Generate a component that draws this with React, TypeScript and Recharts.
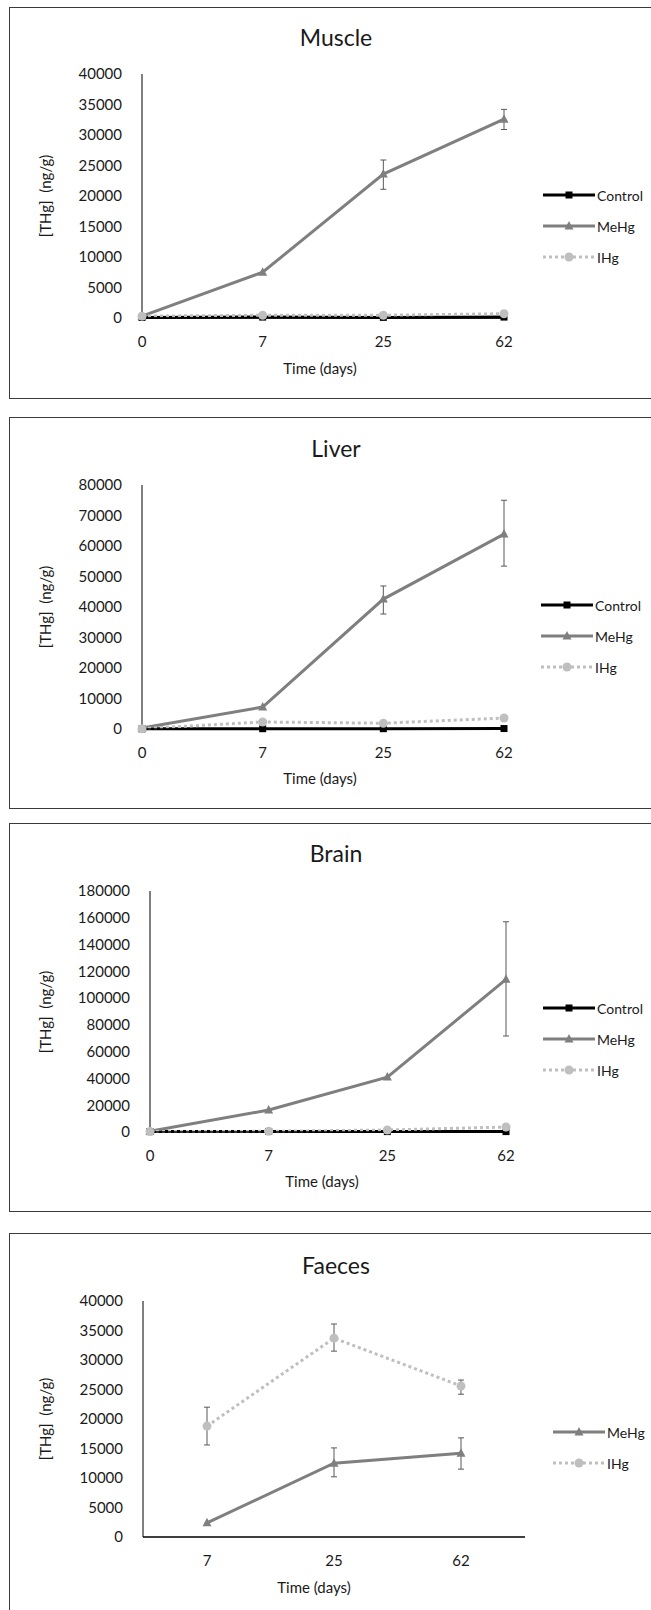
import { LineChart, Line, XAxis, YAxis, ErrorBar, Legend } from "recharts";

const FONT = "Lato, 'Open Sans', sans-serif";
const TEXT = "#1a1a1a";

// x categories
const days = ["0", "7", "25", "62"];
const faecesDays = ["7", "25", "62"];

// Muscle
const muscleControl = [100, 150, 100, 150];
const muscleMeHg = [300, 7500, 23600, 32600];
const muscleMeHgLow = [null, null, 21100, 30900];
const muscleMeHgHigh = [null, null, 25900, 34200];
const muscleIHg = [300, 450, 450, 700];
const muscleTicks = [0, 5000, 10000, 15000, 20000, 25000, 30000, 35000, 40000];

// Liver
const liverControl = [50, 100, 100, 150];
const liverMeHg = [300, 7200, 42600, 63900];
const liverMeHgLow = [null, null, 37700, 53400];
const liverMeHgHigh = [null, null, 46900, 75000];
const liverIHg = [100, 2300, 1900, 3600];
const liverTicks = [0, 10000, 20000, 30000, 40000, 50000, 60000, 70000, 80000];

// Brain
const brainControl = [300, 400, 300, 300];
const brainMeHg = [500, 16400, 41000, 114000];
const brainMeHgLow = [null, null, null, 71700];
const brainMeHgHigh = [null, null, null, 157000];
const brainIHg = [300, 500, 1500, 3700];
const brainTicks = [0, 20000, 40000, 60000, 80000, 100000, 120000, 140000, 160000, 180000];

// Faeces
const faecesMeHg = [2400, 12500, 14200];
const faecesMeHgLow = [null, 10200, 11500];
const faecesMeHgHigh = [null, 15100, 16800];
const faecesIHg = [18800, 33700, 25600];
const faecesIHgLow = [15600, 31500, 24200];
const faecesIHgHigh = [22000, 36100, 26600];
const faecesTicks = [0, 5000, 10000, 15000, 20000, 25000, 30000, 35000, 40000];

const ORDER = ["Control", "MeHg", "IHg"];

const STYLES: Record<string, { stroke: string; dash?: string; marker: string }> = {
  Control: { stroke: "#000000", marker: "square" },
  MeHg: { stroke: "#7f7f7f", marker: "triangle" },
  IHg: { stroke: "#bfbfbf", dash: "3 3", marker: "circle" },
};

interface Series {
  name: string;
  values: number[];
  low?: (number | null)[];
  high?: (number | null)[];
}

function buildRows(cats: string[], series: Series[]) {
  return cats.map((c, i) => {
    const row: any = { day: c };
    series.forEach((s) => {
      row[s.name] = s.values[i];
      if (s.low && s.high && s.low[i] != null && s.high[i] != null) {
        row[s.name + "Err"] = [s.values[i] - (s.low[i] as number), (s.high[i] as number) - s.values[i]];
      }
    });
    return row;
  });
}

function marker(kind: string, cx: number, cy: number, fill: string, key?: string) {
  if (kind === "square") {
    return <rect key={key} x={cx - 3.5} y={cy - 3.5} width={7} height={7} fill={fill} />;
  }
  if (kind === "triangle") {
    return (
      <polygon
        key={key}
        points={`${cx},${cy - 5} ${cx - 4.5},${cy + 3.5} ${cx + 4.5},${cy + 3.5}`}
        fill={fill}
      />
    );
  }
  return <circle key={key} cx={cx} cy={cy} r={4.5} fill={fill} />;
}

function makeDot(name: string) {
  const st = STYLES[name];
  return (props: any) => {
    const { cx, cy, index } = props;
    if (cx == null || cy == null) return <g key={`${name}-${index}`} />;
    return marker(st.marker, cx, cy, st.stroke, `${name}-${index}`);
  };
}

function LegendBox({ payload }: any) {
  const items = [...(payload || [])].sort(
    (a: any, b: any) => ORDER.indexOf(a.value) - ORDER.indexOf(b.value),
  );
  return (
    <div style={{ fontFamily: FONT, fontSize: 14, color: TEXT, width: 120, position: "relative" }}>
      {items.map((p: any, i: number) => {
        const st = STYLES[p.value];
        return (
          <div key={p.value} style={{ position: "absolute", left: 0, top: i * 31, height: 31, width: 120 }}>
            <svg
              width={54}
              height={12}
              viewBox="0 0 54 12"
              style={{ position: "absolute", left: 0, top: 9.5, width: 54, height: 12, overflow: "visible" }}
            >
              <line
                x1={0}
                x2={52}
                y1={6}
                y2={6}
                stroke={st.stroke}
                strokeWidth={3}
                strokeDasharray={st.dash}
              />
              {marker(st.marker, 26, 6, st.stroke)}
            </svg>
            <span
              style={{
                position: "absolute",
                left: 54,
                top: 7,
                lineHeight: "17px",
                whiteSpace: "nowrap",
              }}
            >
              {p.value}
            </span>
          </div>
        );
      })}
    </div>
  );
}

interface PanelProps {
  title: string;
  top: number;
  height: number;
  cats: string[];
  series: Series[];
  ticks: number[];
  plotLeft: number;
  plotRight: number;
  plotTop: number;
  plotBottom: number;
  xPad?: number;
  legendX: number;
  legendY: number;
  titleY: number;
  xTitleY: number;
  xTitleX: number;
}

const XH = 30;

function Panel(p: PanelProps) {
  const rows = buildRows(p.cats, p.series);
  const relTop = p.plotTop - p.top;
  const relBottom = p.plotBottom - p.top;
  const yMax = p.ticks[p.ticks.length - 1];
  return (
    <>
      <div
        style={{
          position: "absolute",
          left: 9,
          top: p.top,
          width: 700,
          height: p.height,
          border: "1px solid #3a3a3a",
          boxSizing: "border-box",
        }}
      />
      <div style={{ position: "absolute", left: 0, top: p.top, width: 651, height: p.height }}>
        <LineChart
          width={651}
          height={p.height}
          data={rows}
          margin={{ top: relTop, right: 651 - p.plotRight, bottom: p.height - relBottom - XH, left: 0 }}
        >
          <XAxis
            dataKey="day"
            height={XH}
            padding={{ left: p.xPad || 0, right: p.xPad || 0 }}
            axisLine={{ stroke: "#000", strokeWidth: 1.5 }}
            tickLine={false}
            tickSize={0}
            tickMargin={18}
            tick={{ fontSize: 15, fill: TEXT, fontFamily: FONT }}
          />
          <YAxis
            width={p.plotLeft}
            domain={[0, yMax]}
            ticks={p.ticks}
            interval={0}
            axisLine={{ stroke: "#000", strokeWidth: 1 }}
            tickLine={false}
            tickSize={0}
            tickMargin={20}
            tick={{ fontSize: 15, fill: TEXT, fontFamily: FONT }}
          />
          <Legend
            layout="horizontal"
            align="center"
            verticalAlign="middle"
            wrapperStyle={{ left: p.legendX, top: p.legendY - p.top - 15.5, width: 120 }}
            content={<LegendBox />}
          />
          {p.series.map((s) => {
            const st = STYLES[s.name];
            return (
              <Line
                key={s.name}
                type="linear"
                dataKey={s.name}
                name={s.name}
                stroke={st.stroke}
                strokeWidth={3}
                strokeDasharray={st.dash}
                dot={makeDot(s.name)}
                activeDot={false}
                isAnimationActive={false}
              >
                {s.low ? (
                  <ErrorBar
                    dataKey={s.name + "Err"}
                    direction="y"
                    width={3}
                    stroke="#595959"
                    strokeWidth={1}
                  />
                ) : null}
              </Line>
            );
          })}
        </LineChart>
      </div>
      <div
        style={{
          position: "absolute",
          left: 236,
          width: 200,
          top: p.titleY - 15,
          height: 30,
          lineHeight: "30px",
          textAlign: "center",
          fontFamily: FONT,
          fontSize: 23,
          color: TEXT,
        }}
      >
        {p.title}
      </div>
      <div
        style={{
          position: "absolute",
          left: p.xTitleX - 100,
          width: 200,
          top: p.xTitleY - 10,
          height: 20,
          lineHeight: "20px",
          textAlign: "center",
          fontFamily: FONT,
          fontSize: 15,
          color: TEXT,
        }}
      >
        Time (days)
      </div>
      <div
        style={{
          position: "absolute",
          left: 45,
          top: (p.plotTop + p.plotBottom) / 2,
          transform: "translate(-50%, -50%) rotate(-90deg)",
          whiteSpace: "pre",
          fontFamily: FONT,
          fontSize: 15,
          lineHeight: "20px",
          color: TEXT,
        }}
      >
        {"[THg]  (ng/g)"}
      </div>
    </>
  );
}

export default function App() {
  return (
    <div
      style={{
        position: "absolute",
        left: 0,
        top: 0,
        width: 651,
        height: 1610,
        overflow: "hidden",
        background: "#fff",
      }}
    >
      <Panel
        title="Muscle"
        top={7}
        height={392}
        cats={days}
        series={[
          { name: "Control", values: muscleControl },
          { name: "MeHg", values: muscleMeHg, low: muscleMeHgLow, high: muscleMeHgHigh },
          { name: "IHg", values: muscleIHg },
        ]}
        ticks={muscleTicks}
        plotLeft={142}
        plotRight={504}
        plotTop={74}
        plotBottom={318}
        legendX={543}
        legendY={195}
        titleY={37}
        xTitleY={368}
        xTitleX={320}
      />
      <Panel
        title="Liver"
        top={417}
        height={392}
        cats={days}
        series={[
          { name: "Control", values: liverControl },
          { name: "MeHg", values: liverMeHg, low: liverMeHgLow, high: liverMeHgHigh },
          { name: "IHg", values: liverIHg },
        ]}
        ticks={liverTicks}
        plotLeft={142}
        plotRight={504}
        plotTop={485}
        plotBottom={729}
        legendX={541}
        legendY={605}
        titleY={448}
        xTitleY={778}
        xTitleX={320}
      />
      <Panel
        title="Brain"
        top={823}
        height={389}
        cats={days}
        series={[
          { name: "Control", values: brainControl },
          { name: "MeHg", values: brainMeHg, low: brainMeHgLow, high: brainMeHgHigh },
          { name: "IHg", values: brainIHg },
        ]}
        ticks={brainTicks}
        plotLeft={150}
        plotRight={506}
        plotTop={891}
        plotBottom={1132}
        legendX={543}
        legendY={1008}
        titleY={853}
        xTitleY={1181}
        xTitleX={322}
      />
      <Panel
        title="Faeces"
        top={1233}
        height={400}
        cats={faecesDays}
        series={[
          { name: "MeHg", values: faecesMeHg, low: faecesMeHgLow, high: faecesMeHgHigh },
          { name: "IHg", values: faecesIHg, low: faecesIHgLow, high: faecesIHgHigh },
        ]}
        ticks={faecesTicks}
        plotLeft={143}
        plotRight={525}
        plotTop={1301}
        plotBottom={1537}
        xPad={64}
        legendX={553}
        legendY={1432}
        titleY={1265}
        xTitleY={1587}
        xTitleX={314}
      />
    </div>
  );
}
